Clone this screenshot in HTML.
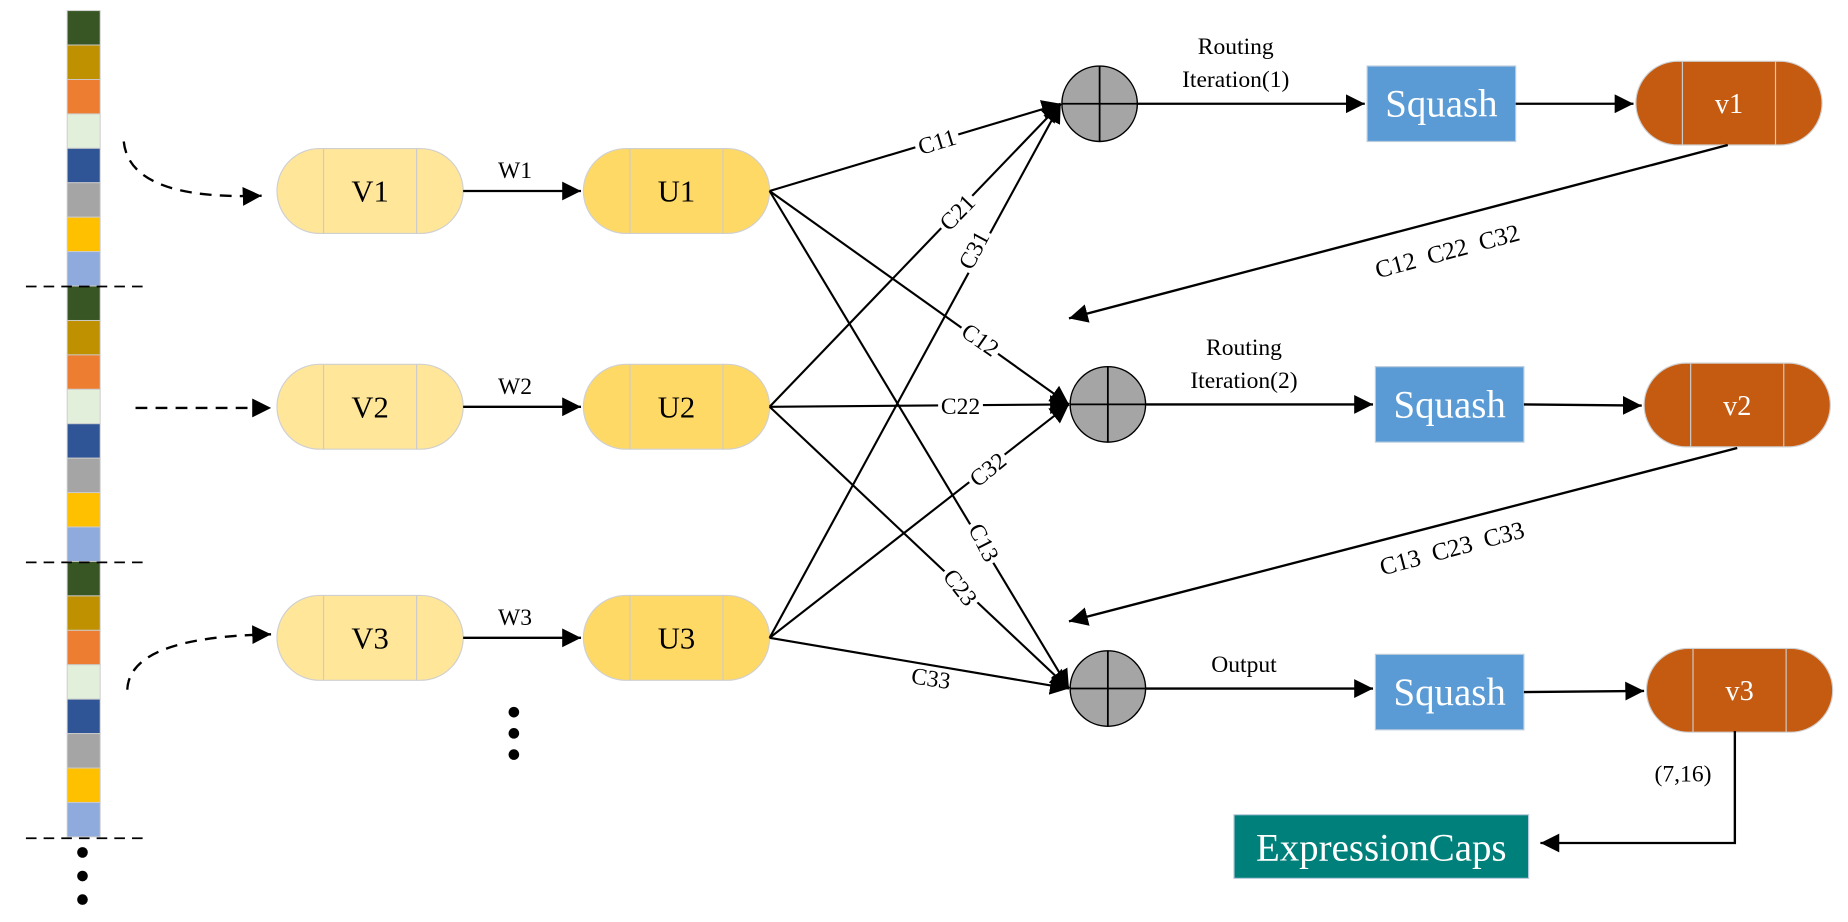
<!DOCTYPE html>
<html><head><meta charset="utf-8"><style>
html,body{margin:0;padding:0;background:#fff;}
svg{display:block;}
text{font-family:"Liberation Serif",serif;}
</style></head><body>
<svg width="1848" height="922" viewBox="0 0 1568 782" preserveAspectRatio="none" xmlns="http://www.w3.org/2000/svg">
<defs>
<marker id="ahb" viewBox="0 0 10 10" refX="10" refY="5" markerWidth="16" markerHeight="16" markerUnits="userSpaceOnUse" orient="auto"><path d="M0,0L10,5L0,10z" fill="#000"/></marker>
</defs>
<g id="strip"></g>
<g stroke="#000" stroke-width="1.5" stroke-dasharray="9,6">
<line x1="22" y1="243" x2="122" y2="243"/><line x1="22" y1="477" x2="122" y2="477"/><line x1="22" y1="711" x2="122" y2="711"/>
</g>
<g fill="#000"><circle cx="70" cy="723" r="4.5"/><circle cx="70" cy="743" r="4.5"/><circle cx="70" cy="763" r="4.5"/></g>
<g fill="none" stroke="#000" stroke-width="2" stroke-dasharray="10,7">
<path d="M105,120 Q110,170 222,166" marker-end="url(#ahb)"/>
<line x1="115" y1="346" x2="230" y2="346" marker-end="url(#ahb)"/>
<path d="M108,585 Q110,540 230,538" marker-end="url(#ahb)"/>
</g>
<g id="nodes"></g>
<g fill="#000"><circle cx="436" cy="604" r="4.5"/><circle cx="436" cy="622" r="4.5"/><circle cx="436" cy="640" r="4.5"/></g>
<g stroke="#000" stroke-width="1.8" fill="none">
<line x1="653" y1="162" x2="900" y2="88" marker-end="url(#ahb)"/>
<line x1="653" y1="345" x2="900" y2="88" marker-end="url(#ahb)"/>
<line x1="653" y1="541" x2="900" y2="88" marker-end="url(#ahb)"/>
<line x1="653" y1="162" x2="907" y2="343" marker-end="url(#ahb)"/>
<line x1="653" y1="345" x2="907" y2="343" marker-end="url(#ahb)"/>
<line x1="653" y1="541" x2="907" y2="343" marker-end="url(#ahb)"/>
<line x1="653" y1="162" x2="907" y2="584" marker-end="url(#ahb)"/>
<line x1="653" y1="345" x2="907" y2="584" marker-end="url(#ahb)"/>
<line x1="653" y1="541" x2="907" y2="584" marker-end="url(#ahb)"/>
</g>
<g fill="#fff">
<rect x="776" y="111" width="38" height="18" transform="rotate(-17 795 120)"/>
<rect x="793" y="171" width="38" height="18" transform="rotate(-46 812 180)"/>
<rect x="807" y="203" width="38" height="18" transform="rotate(-62 826 212)"/>
<rect x="813" y="279" width="38" height="18" transform="rotate(35 832 288)"/>
<rect x="796" y="335" width="38" height="18"/>
<rect x="819" y="389" width="38" height="18" transform="rotate(-39 838 398)"/>
<rect x="816" y="451" width="38" height="18" transform="rotate(63 835 460)"/>
<rect x="796" y="489" width="38" height="18" transform="rotate(52 815 498)"/>
<rect x="771" y="566" width="38" height="18" transform="rotate(9 790 575)"/>
</g>
<g font-size="20" fill="#000" text-anchor="middle">
<text x="795" y="127" transform="rotate(-17 795 120)">C11</text>
<text x="812" y="187" transform="rotate(-46 812 180)">C21</text>
<text x="826" y="219" transform="rotate(-62 826 212)">C31</text>
<text x="832" y="295" transform="rotate(35 832 288)">C12</text>
<text x="815" y="351">C22</text>
<text x="838" y="405" transform="rotate(-39 838 398)">C32</text>
<text x="835" y="467" transform="rotate(63 835 460)">C13</text>
<text x="815" y="505" transform="rotate(52 815 498)">C23</text>
<text x="790" y="582" transform="rotate(9 790 575)">C33</text>
</g>
<g stroke="#000" stroke-width="2" fill="none">
<line x1="1466" y1="123" x2="907" y2="270" marker-end="url(#ahb)"/>
<line x1="1474" y1="380" x2="907" y2="527" marker-end="url(#ahb)"/>
<polyline points="1472,620 1472,715 1307,715" marker-end="url(#ahb)"/>
</g>
<text x="1228" y="220" font-size="21" text-anchor="middle" transform="rotate(-15 1228 213)" xml:space="preserve">C12  C22  C32</text>
<text x="1232" y="472" font-size="21" text-anchor="middle" transform="rotate(-15 1232 465)" xml:space="preserve">C13  C23  C33</text>
<text x="1428" y="663" font-size="20" text-anchor="middle">(7,16)</text>
<rect x="1047" y="691" width="250" height="54" fill="#00807A" stroke="#bcd" stroke-width="1"/>
<text x="1172" y="730" font-size="33" fill="#fff" text-anchor="middle">ExpressionCaps</text>
<script>
const stripColors=['#375623','#BF9000','#ED7D31','#E2EFDA','#2F5597','#A5A5A5','#FFC000','#8FAADC'];
const NS='http://www.w3.org/2000/svg';
const strip=document.getElementById('strip');
for(let g=0;g<3;g++)for(let i=0;i<8;i++){
 const r=document.createElementNS(NS,'rect');
 r.setAttribute('x',57);r.setAttribute('y',9+(g*8+i)*29.2);r.setAttribute('width',28);r.setAttribute('height',29.2);
 r.setAttribute('fill',stripColors[i]);r.setAttribute('stroke','#ccc');r.setAttribute('stroke-width','0.8');
 
 
 strip.appendChild(r);
}
const nodes=document.getElementById('nodes');
function el(tag,attrs,txt){const e=document.createElementNS(NS,tag);for(const k in attrs)e.setAttribute(k,attrs[k]);if(txt)e.textContent=txt;nodes.appendChild(e);return e;}
function pill(x,y,w,h,fill,label,name,tc,fs){
 const r=h/2;
 const p=el('path',{d:`M${x+r},${y}H${x+w-r}A${r},${r} 0 0 1 ${x+w-r},${y+h}H${x+r}A${r},${r} 0 0 1 ${x+r},${y}Z`,fill:fill,stroke:'#d0d0d0','stroke-width':1});
 
 
 el('line',{x1:x+w*0.25,y1:y,x2:x+w*0.25,y2:y+h,stroke:'#ccc'});
 el('line',{x1:x+w*0.75,y1:y,x2:x+w*0.75,y2:y+h,stroke:'#ccc'});
 const t=el('text',{x:x+w/2,y:y+h/2+fs*0.35,'font-size':fs,'text-anchor':'middle',fill:tc},label);
 
 
}
function arrow(x1,y1,x2,y2){el('line',{x1,y1,x2,y2,stroke:'#000','stroke-width':2,'marker-end':'url(#ahb)'});}
function txt(x,y,s,fs,name){const t=el('text',{x,y,'font-size':fs,'text-anchor':'middle'},s);}
const rowsY=[162,345,541];
rowsY.forEach((cy,i)=>{
 pill(235,cy-36,158,72,'#FFE699','V'+(i+1),'v'+(i+1)+'-node','#000',26);
 arrow(393,cy,493,cy);
 txt(437,cy-11,'W'+(i+1),20,'w'+(i+1)+'-label');
 pill(495,cy-36,158,72,'#FFD966','U'+(i+1),'u'+(i+1)+'-node','#000',26);
});
const sums=[[933,88],[940,343],[940,584]];
const squash=[[1160,56],[1167,311],[1167,555]];
const vout=[[1388,52],[1395,308],[1397,550]];
const topLab=[['Routing','Iteration(1)'],['Routing','Iteration(2)'],['','Output']];
sums.forEach((s,i)=>{
 const c=el('circle',{cx:s[0],cy:s[1],r:32,fill:'#A5A5A5',stroke:'#000','stroke-width':1.2});
 
 
 el('line',{x1:s[0]-32,y1:s[1],x2:s[0]+32,y2:s[1],stroke:'#000','stroke-width':1.5});
 el('line',{x1:s[0],y1:s[1]-32,x2:s[0],y2:s[1]+32,stroke:'#000','stroke-width':1.5});
 const q=squash[i];
 arrow(s[0]+32,s[1],q[0]-2,s[1]);
 if(topLab[i][0])txt((s[0]+q[0])/2+2,s[1]-42,topLab[i][0],20,'routing-label-'+(i+1));
 txt((s[0]+q[0])/2+2,s[1]-14,topLab[i][1],20,'routing-iteration-label-'+(i+1));
 const r=el('rect',{x:q[0],y:q[1],width:126,height:64,fill:'#5B9BD5',stroke:'#bcd'});
 
 
 const t=el('text',{x:q[0]+63,y:q[1]+43,'font-size':33,'text-anchor':'middle',fill:'#fff'},'Squash');
 
 
 const v=vout[i];
 arrow(q[0]+126,q[1]+32,v[0]-2,v[1]+36);
 pill(v[0],v[1],158,71,'#C55A11','v'+(i+1),'output-v'+(i+1),'#fff',24);
});
</script>
</svg>
</body></html>
